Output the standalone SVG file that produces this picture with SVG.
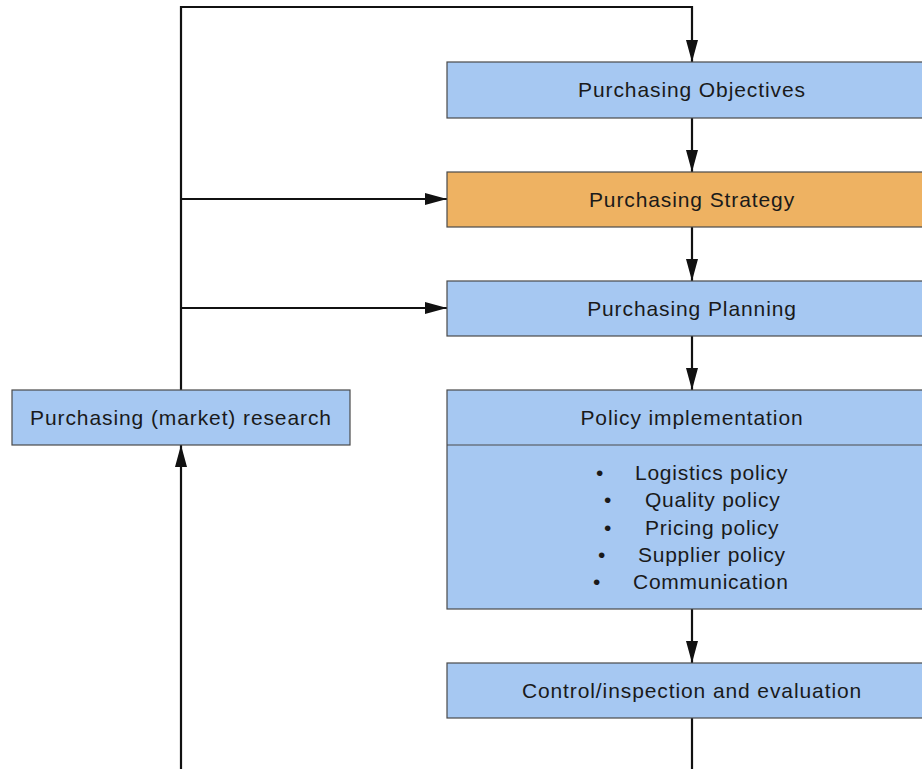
<svg xmlns="http://www.w3.org/2000/svg" width="922" height="769" viewBox="0 0 922 769">
  <style>
    .box { stroke: #4a4a4a; stroke-width: 1.2; }
    .blue { fill: #a6c8f2; }
    .orange { fill: #eeb262; }
    .label { font-family: "Liberation Sans", Arial, sans-serif; font-size: 21px; letter-spacing: 0.9px; fill: #1a1a1a; text-anchor: middle; }
    .item { font-family: "Liberation Sans", Arial, sans-serif; font-size: 21px; letter-spacing: 0.75px; fill: #1a1a1a; }
    .wire { fill: none; stroke: #111; stroke-width: 2.2; }
  </style>
  <defs>
    <marker id="head" viewBox="0 0 22 12" refX="22" refY="6" markerWidth="22" markerHeight="12" markerUnits="userSpaceOnUse" orient="auto">
      <path d="M0,0 L22,6 L0,12 Z" fill="#111"/>
    </marker>
  </defs>
  <rect width="922" height="769" fill="#ffffff"/>

  <g id="connectors">
    <path class="wire" d="M181,390 V7 H692 V62" marker-end="url(#head)"/>
    <path class="wire" d="M692,118 V172" marker-end="url(#head)"/>
    <path class="wire" d="M692,227 V281" marker-end="url(#head)"/>
    <path class="wire" d="M692,336 V390" marker-end="url(#head)"/>
    <path class="wire" d="M692,609 V663" marker-end="url(#head)"/>
    <path class="wire" d="M181,199 H447" marker-end="url(#head)"/>
    <path class="wire" d="M181,308 H447" marker-end="url(#head)"/>
    <path class="wire" d="M181,769 V445" marker-end="url(#head)"/>
    <path class="wire" d="M692,718 V769"/>
  </g>

  <g id="objectives">
    <rect class="box blue" x="447" y="62" width="490" height="56"/>
    <text class="label" x="692" y="97">Purchasing Objectives</text>
  </g>

  <g id="strategy">
    <rect class="box orange" x="447" y="172" width="490" height="55"/>
    <text class="label" x="692" y="207">Purchasing Strategy</text>
  </g>

  <g id="planning">
    <rect class="box blue" x="447" y="281" width="490" height="55"/>
    <text class="label" x="692" y="316">Purchasing Planning</text>
  </g>

  <g id="research">
    <rect class="box blue" x="12" y="390" width="338" height="55"/>
    <text class="label" x="181" y="425">Purchasing (market) research</text>
  </g>

  <g id="implementation">
    <rect class="box blue" x="447" y="390" width="490" height="219"/>
    <line class="box" x1="447" y1="445" x2="937" y2="445"/>
    <text class="label" x="692" y="425">Policy implementation</text>
    <g class="item">
      <text x="596" y="480">•</text><text x="635" y="480">Logistics policy</text>
      <text x="604" y="507">•</text><text x="645" y="507">Quality policy</text>
      <text x="604" y="535">•</text><text x="645" y="535">Pricing policy</text>
      <text x="598" y="562">•</text><text x="638" y="562">Supplier policy</text>
      <text x="593" y="589">•</text><text x="633" y="589">Communication</text>
    </g>
  </g>

  <g id="control">
    <rect class="box blue" x="447" y="663" width="490" height="55"/>
    <text class="label" x="692" y="698">Control/inspection and evaluation</text>
  </g>
</svg>
